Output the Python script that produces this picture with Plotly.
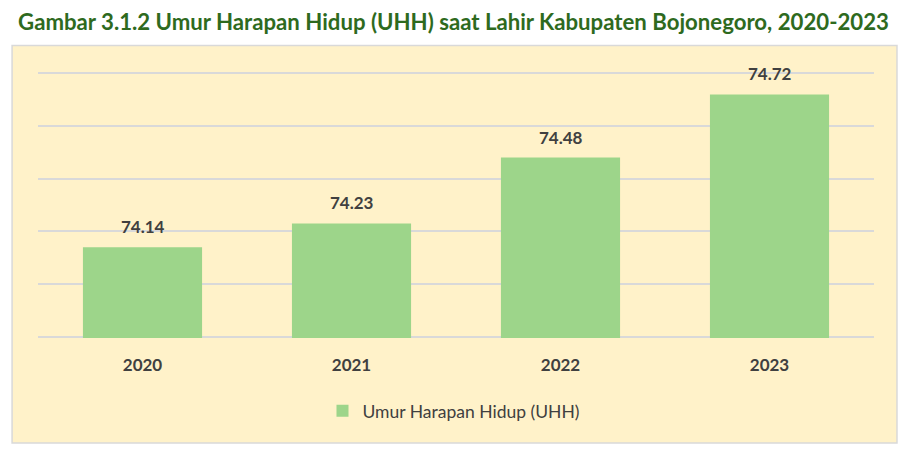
import plotly.graph_objects as go

years = ["2020", "2021", "2022", "2023"]
uhh = [74.14, 74.23, 74.48, 74.72]
series_name = "Umur Harapan Hidup (UHH)"
title_text = "Gambar 3.1.2 Umur Harapan Hidup (UHH) saat Lahir Kabupaten Bojonegoro, 2020-2023"

label_color = "#404040"
bar_color = "#9DD58A"

fig = go.Figure(
    go.Bar(
        x=years,
        y=uhh,
        name=series_name,
        marker_color=bar_color,
        marker_line_width=0,
        showlegend=True,
    )
)

# value labels above the bars (x given as category index)
for i, v in enumerate(uhh):
    fig.add_annotation(
        x=i, y=v, text="<b>%.2f</b>" % v,
        showarrow=False, yanchor="bottom", yshift=8,
        font=dict(family="Lato", size=17, color=label_color),
    )

# yellow chart box
fig.add_shape(
    type="rect", xref="paper", yref="paper",
    x0=-0.031, x1=1.0275, y0=-0.395, y1=1.10,
    fillcolor="#FFF2C9", line=dict(color="#D9D9D9", width=1.5),
    layer="below",
)

# page has an 8px body margin, so margins are shifted up/left by 8px
fig.update_layout(
    width=917, height=474,
    margin=dict(l=30, r=51, t=64, b=144),
    paper_bgcolor="white",
    plot_bgcolor="rgba(0,0,0,0)",
    bargap=0.43,
    title=dict(
        text="<b>" + title_text + "</b>",
        x=0.011, xanchor="left", xref="container",
        y=0.97, yanchor="middle", yref="container",
        font=dict(family="Lato", size=22.2, color="#2E6A1E"),
    ),
    xaxis=dict(
        type="category", range=[-0.5, len(years) - 0.5],
        showgrid=False, showline=False, zeroline=False,
        ticks="outside", ticklen=12, tickcolor="rgba(0,0,0,0)",
        tickfont=dict(family="Lato", size=17, color=label_color),
        automargin=False,
    ),
    yaxis=dict(
        range=[73.795, 74.805], dtick=0.2, tick0=73.8,
        showticklabels=False, showgrid=True,
        gridcolor="#D9D9D9", gridwidth=1.5,
        zeroline=False, showline=False,
        automargin=False,
    ),
    legend=dict(
        orientation="h", x=0.497, xanchor="center",
        y=-0.274, yanchor="middle",
        font=dict(family="Lato", size=17.5, color=label_color),
        bgcolor="rgba(0,0,0,0)",
    ),
)
fig.update_xaxes(tickvals=years, ticktext=["<b>%s</b>" % y for y in years])

fig.write_html("out.html")
